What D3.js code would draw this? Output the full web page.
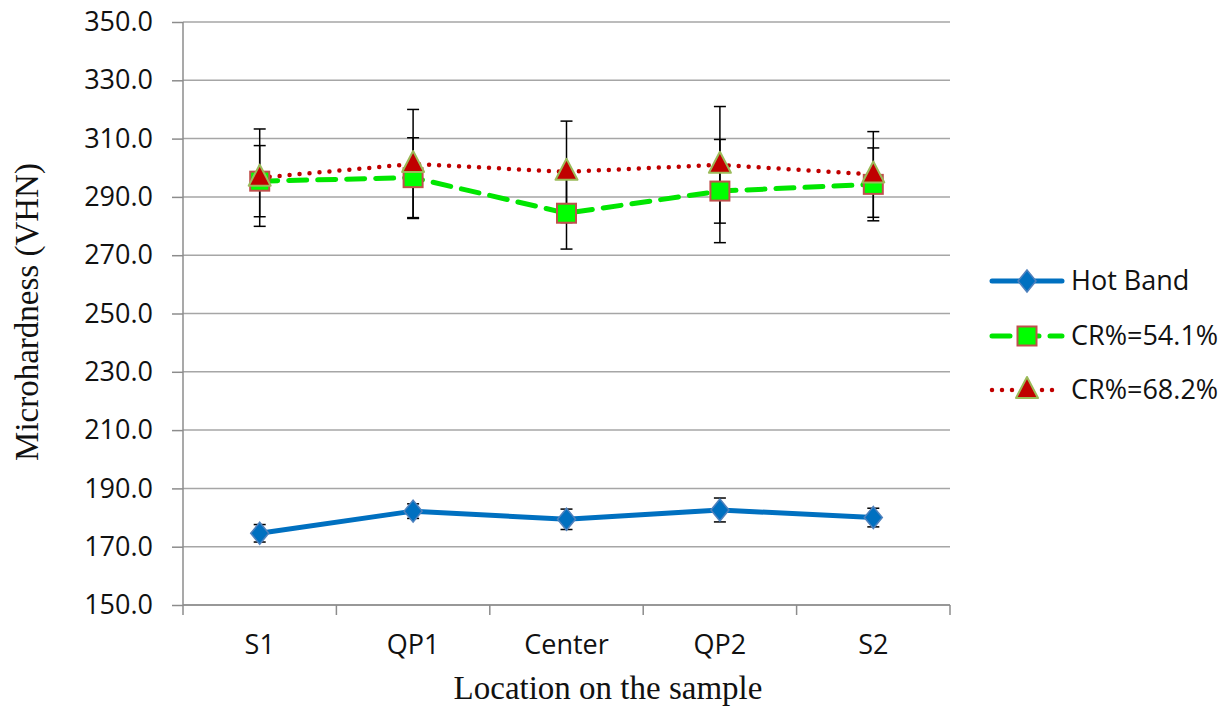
<!DOCTYPE html>
<html>
<head>
<meta charset="utf-8">
<script src="https://cdn.jsdelivr.net/npm/d3@7/dist/d3.min.js"></script>
<style>
html,body{margin:0;padding:0;background:#fff;}
svg{display:block;}
</style>
</head>
<body>
<svg id="chart" width="1231" height="706"></svg>
<script>
const categories = ["S1", "QP1", "Center", "QP2", "S2"];
const hotBand = [174.6, 182.2, 179.4, 182.6, 180.0];
const hotBandErr = [3.0, 2.5, 3.5, 4.1, 3.2];
const cr541 = [295.4, 296.6, 284.4, 292.0, 294.3];
const cr541Err = [12.2, 13.7, 12.3, 17.7, 12.5];
const cr682 = [296.6, 301.3, 298.6, 301.0, 297.7];
const cr682Err = [16.7, 18.7, 17.4, 20.0, 14.7];
const yTicks = [150, 170, 190, 210, 230, 250, 270, 290, 310, 330, 350];
const seriesNames = ["Hot Band", "CR%=54.1%", "CR%=68.2%"];
const xTitle = "Location on the sample";
const yTitle = "Microhardness (VHN)";

const svg = d3.select("#chart");
const L = 183, R = 950, T = 22, B = 605;

const x = d3.scaleBand().domain(categories).range([L, R]).padding(0);
const y = d3.scaleLinear().domain([150, 350]).range([B, T]);
const cx = c => x(c) + x.bandwidth() / 2;

const series = [
  { name: seriesNames[0], values: hotBand, err: hotBandErr, color: "#0070c0", width: 5, dash: null, cap: "round", marker: "diamond" },
  { name: seriesNames[1], values: cr541, err: cr541Err, color: "#00e600", width: 5, dash: "18 11", cap: "round", marker: "square" },
  { name: seriesNames[2], values: cr682, err: cr682Err, color: "#c00000", width: 4.5, dash: "0 10", cap: "round", marker: "triangle" }
];

// gridlines
svg.append("g").selectAll("line").data(yTicks).join("line")
  .attr("x1", L).attr("x2", R)
  .attr("y1", d => y(d)).attr("y2", d => y(d))
  .attr("stroke", "#a6a6a6").attr("stroke-width", 1.5);

// y axis
const yAxis = svg.append("g").attr("transform", `translate(${L},0)`)
  .call(d3.axisLeft(y).tickValues(yTicks).tickFormat(d3.format(".1f")).tickSize(11).tickPadding(19));
yAxis.select(".domain").attr("stroke", "#8c8c8c").attr("stroke-width", 1.5).attr("d", `M0,${T}V${B}`);
yAxis.selectAll(".tick line").attr("stroke", "#8c8c8c").attr("stroke-width", 1.5);
yAxis.selectAll(".tick text").attr("font-family", "'Open Sans', sans-serif").attr("font-size", 27).attr("fill", "#111");

// x axis
const xAxis = svg.append("g").attr("transform", `translate(0,${B})`)
  .call(d3.axisBottom(x).tickSize(0).tickPadding(30));
xAxis.select(".domain").attr("stroke", "#8c8c8c").attr("stroke-width", 1.5).attr("d", `M${L},0H${R}`);
xAxis.selectAll(".tick text").attr("font-family", "'Open Sans', sans-serif").attr("font-size", 27).attr("fill", "#111");
const bounds = categories.map(c => x(c)).concat([x.range()[1]]);
xAxis.append("g").selectAll("line").data(bounds).join("line")
  .attr("x1", d => d).attr("x2", d => d).attr("y1", 0).attr("y2", 10)
  .attr("stroke", "#8c8c8c").attr("stroke-width", 1.5);

// axis titles
svg.append("text").attr("x", 608).attr("y", 699).attr("text-anchor", "middle")
  .attr("font-family", "'Liberation Serif', 'Times New Roman', serif").attr("font-size", 33).attr("fill", "#111")
  .text(xTitle);
svg.append("text").attr("transform", `translate(38,312) rotate(-90)`).attr("text-anchor", "middle")
  .attr("font-family", "'Liberation Serif', 'Times New Roman', serif").attr("font-size", 33).attr("fill", "#111")
  .text(yTitle);

// lines
const line = d3.line().x((d, i) => cx(categories[i])).y(d => y(d));
series.forEach(s => {
  const p = svg.append("path").datum(s.values).attr("d", line)
    .attr("fill", "none").attr("stroke", s.color).attr("stroke-width", s.width)
    .attr("stroke-linecap", s.cap).attr("stroke-linejoin", "round");
  if (s.dash) p.attr("stroke-dasharray", s.dash);
});

// error bars
const capW = 6;
series.forEach(s => {
  const g = svg.append("g").attr("stroke", "#000").attr("stroke-width", 1.5);
  s.values.forEach((v, i) => {
    const xc = cx(categories[i]);
    const y1 = y(v + s.err[i]), y2 = y(v - s.err[i]);
    g.append("line").attr("x1", xc).attr("x2", xc).attr("y1", y1).attr("y2", y2);
    g.append("line").attr("x1", xc - capW).attr("x2", xc + capW).attr("y1", y1).attr("y2", y1);
    g.append("line").attr("x1", xc - capW).attr("x2", xc + capW).attr("y1", y2).attr("y2", y2);
  });
});

// markers
function drawMarker(g, type, xc, yc) {
  if (type === "diamond") {
    g.append("path").attr("d", `M${xc},${yc - 11}L${xc + 9},${yc}L${xc},${yc + 11}L${xc - 9},${yc}Z`)
      .attr("fill", "#0070c0").attr("stroke", "#4f81bd").attr("stroke-width", 1.5);
  } else if (type === "square") {
    g.append("rect").attr("x", xc - 9.5).attr("y", yc - 9.5).attr("width", 19).attr("height", 19)
      .attr("fill", "#00ff00").attr("stroke", "#c0504d").attr("stroke-width", 2);
  } else {
    g.append("path").attr("d", `M${xc},${yc - 13}L${xc + 11},${yc + 8}L${xc - 11},${yc + 8}Z`)
      .attr("fill", "#c00000").attr("stroke", "#9bbb59").attr("stroke-width", 2).attr("stroke-linejoin", "round");
  }
}
series.forEach(s => {
  const g = svg.append("g");
  s.values.forEach((v, i) => drawMarker(g, s.marker, cx(categories[i]), y(v)));
});

// legend
const legY = [281, 336, 390];
series.forEach((s, i) => {
  const g = svg.append("g");
  const ly = legY[i];
  const l = g.append("line").attr("x1", 992).attr("x2", 1062).attr("y1", ly).attr("y2", ly)
    .attr("stroke", s.color).attr("stroke-width", s.width).attr("stroke-linecap", s.cap);
  if (s.dash) l.attr("stroke-dasharray", s.dash);
  drawMarker(g, s.marker, 1027, ly);
  g.append("text").attr("x", 1071).attr("y", ly).attr("dy", "0.35em")
    .attr("font-family", "'Open Sans', sans-serif").attr("font-size", 27).attr("fill", "#111")
    .text(s.name);
});
</script>
</body>
</html>
